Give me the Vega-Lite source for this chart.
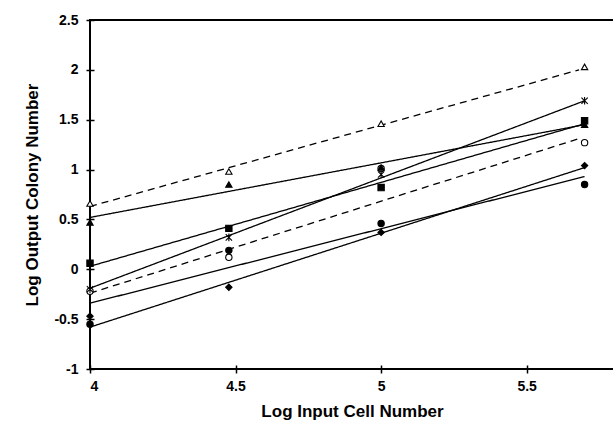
{
  "$schema": "https://vega.github.io/schema/vega-lite/v6.json",
  "width": 524,
  "height": 349,
  "autosize": {"type": "none"},
  "padding": {"left": 90, "top": 20, "right": 0, "bottom": 60},
  "background": "white",
  "config": {
    "view": {"stroke": "black", "strokeWidth": 2},
    "font": "Liberation Sans",
    "axis": {
      "grid": false,
      "domain": false,
      "offset": -4,
      "tickColor": "black",
      "tickWidth": 1.5,
      "tickSize": 8,
      "labelColor": "black",
      "labelFont": "Liberation Sans",
      "labelFontWeight": "bold",
      "labelFontSize": 14,
      "titleColor": "black",
      "titleFont": "Liberation Sans",
      "titleFontWeight": "bold",
      "titleFontSize": 17,
      "labelExpr": "datum.value + ''"
    }
  },
  "datasets": {
    "points": [
      {"series": "open circle", "x": 4, "y": -0.22},
      {"series": "open circle", "x": 4.477, "y": 0.12},
      {"series": "open circle", "x": 5, "y": 1.01},
      {"series": "open circle", "x": 5.699, "y": 1.27},
      {"series": "open triangle", "x": 4, "y": 0.66},
      {"series": "open triangle", "x": 4.477, "y": 0.98},
      {"series": "open triangle", "x": 5, "y": 1.46},
      {"series": "open triangle", "x": 5.699, "y": 2.03},
      {"series": "filled triangle", "x": 4, "y": 0.47},
      {"series": "filled triangle", "x": 4.477, "y": 0.85},
      {"series": "filled triangle", "x": 5, "y": 1.02},
      {"series": "filled triangle", "x": 5.699, "y": 1.45},
      {"series": "square", "x": 4, "y": 0.06},
      {"series": "square", "x": 4.477, "y": 0.41},
      {"series": "square", "x": 5, "y": 0.82},
      {"series": "square", "x": 5.699, "y": 1.49},
      {"series": "asterisk", "x": 4, "y": -0.2},
      {"series": "asterisk", "x": 4.477, "y": 0.32},
      {"series": "asterisk", "x": 5, "y": 0.95},
      {"series": "asterisk", "x": 5.699, "y": 1.69},
      {"series": "filled circle", "x": 4, "y": -0.55},
      {"series": "filled circle", "x": 4.477, "y": 0.19},
      {"series": "filled circle", "x": 5, "y": 0.46},
      {"series": "filled circle", "x": 5.699, "y": 0.85},
      {"series": "diamond", "x": 4, "y": -0.47},
      {"series": "diamond", "x": 4.477, "y": -0.18},
      {"series": "diamond", "x": 5, "y": 0.37},
      {"series": "diamond", "x": 5.699, "y": 1.04}
    ],
    "fits": [
      {"series": "open triangle", "x": 4, "y": 0.63},
      {"series": "open triangle", "x": 5.68, "y": 2.0},
      {"series": "filled triangle", "x": 4, "y": 0.52},
      {"series": "filled triangle", "x": 5.699, "y": 1.45},
      {"series": "square", "x": 4, "y": 0.03},
      {"series": "square", "x": 5.699, "y": 1.46},
      {"series": "asterisk", "x": 4, "y": -0.19},
      {"series": "asterisk", "x": 5.699, "y": 1.69},
      {"series": "open circle", "x": 4, "y": -0.24},
      {"series": "open circle", "x": 5.68, "y": 1.31},
      {"series": "filled circle", "x": 4, "y": -0.34},
      {"series": "filled circle", "x": 5.699, "y": 0.93},
      {"series": "diamond", "x": 4, "y": -0.58},
      {"series": "diamond", "x": 5.699, "y": 1.02}
    ]
  },
  "layer": [
    {
      "data": {"name": "fits"},
      "mark": {"type": "line", "color": "black", "strokeWidth": 1.3},
      "encoding": {
        "x": {
          "field": "x", "type": "quantitative",
          "scale": {"domain": [4, 5.8], "nice": false, "zero": false},
          "axis": {"title": "Log Input Cell Number", "values": [4, 4.5, 5, 5.5], "labelPadding": 6, "titlePadding": 10}
        },
        "y": {
          "field": "y", "type": "quantitative",
          "scale": {"domain": [-1, 2.5], "nice": false, "zero": false},
          "axis": {"title": "Log Output Colony Number", "values": [-1, -0.5, 0, 0.5, 1, 1.5, 2, 2.5], "labelPadding": 8, "titlePadding": 12}
        },
        "detail": {"field": "series"},
        "strokeDash": {
          "field": "series", "type": "nominal",
          "scale": {
            "domain": ["open triangle", "filled triangle", "square", "asterisk", "open circle", "filled circle", "diamond"],
            "range": [[7, 5], [1, 0], [1, 0], [1, 0], [7, 5], [1, 0], [1, 0]]
          },
          "legend": null
        }
      }
    },
    {
      "data": {"name": "points"},
      "mark": {"type": "point", "stroke": "black", "strokeWidth": 1.1, "fillOpacity": 1, "strokeOpacity": 1, "size": 40},
      "encoding": {
        "x": {"field": "x", "type": "quantitative"},
        "y": {"field": "y", "type": "quantitative"},
        "shape": {
          "field": "series", "type": "nominal",
          "scale": {
            "domain": ["open triangle", "filled triangle", "square", "asterisk", "open circle", "filled circle", "diamond"],
            "range": ["triangle-up", "triangle-up", "square", "M-1,-1L1,1M-1,1L1,-1M0,-1.2L0,1.2", "circle", "circle", "diamond"]
          },
          "legend": null
        },
        "fill": {
          "field": "series", "type": "nominal",
          "scale": {
            "domain": ["open triangle", "filled triangle", "square", "asterisk", "open circle", "filled circle", "diamond"],
            "range": ["white", "black", "black", "black", "white", "black", "black"]
          },
          "legend": null
        }
      }
    }
  ]
}
